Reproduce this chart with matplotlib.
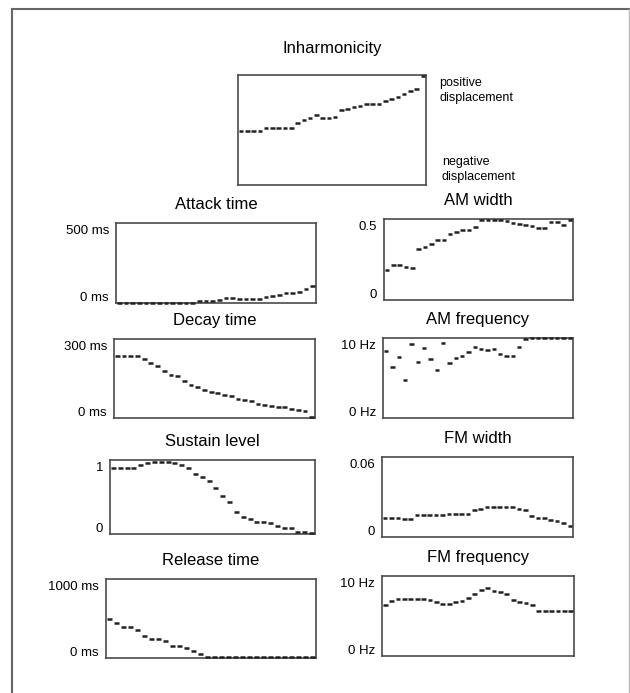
import numpy as np
import matplotlib
matplotlib.use("Agg")
import matplotlib.pyplot as plt
from matplotlib.lines import Line2D

plt.rcParams['font.family'] = ['Liberation Sans', 'DejaVu Sans']

# Parameter trajectories, 30 steps each
inharmonicity = [-0.02, -0.02, -0.02, -0.02, 0.03, 0.03, 0.03, 0.03, 0.03, 0.12,
                 0.18, 0.21, 0.27, 0.21, 0.21, 0.23, 0.36, 0.38, 0.41, 0.44,
                 0.47, 0.48, 0.48, 0.52, 0.56, 0.60, 0.65, 0.71, 0.75, 0.98]
attack_time = [3, 3, 3, 3, 3, 3, 3, 3, 3, 3, 3, 3, 12, 12, 12, 21, 29, 31, 27, 27,
               27, 27, 35, 46, 52, 62, 62, 71, 87, 104]
decay_time = [234, 234, 234, 234, 224, 209, 196, 180, 165, 158, 142, 124, 116, 108, 97,
              95, 89, 82, 73, 67, 63, 53, 51, 44, 43, 41, 35, 30, 25, 4]
sustain_level = [0.887, 0.887, 0.887, 0.887, 0.932, 0.955, 0.968, 0.968, 0.968, 0.955,
                 0.932, 0.887, 0.81, 0.775, 0.72, 0.626, 0.514, 0.437, 0.302, 0.234,
                 0.198, 0.167, 0.158, 0.144, 0.108, 0.077, 0.077, 0.032, 0.032, 0.018]
release_time = [494, 443, 392, 392, 359, 274, 245, 245, 211, 148, 148, 127, 84, 51, 13,
                13, 13, 13, 13, 13, 13, 13, 13, 13, 13, 13, 13, 13, 13, 13]
am_width = [0.186, 0.213, 0.213, 0.202, 0.196, 0.314, 0.326, 0.347, 0.368, 0.372,
            0.409, 0.417, 0.43, 0.43, 0.45, 0.492, 0.492, 0.492, 0.492, 0.486,
            0.475, 0.471, 0.465, 0.455, 0.444, 0.444, 0.479, 0.479, 0.463, 0.492]
am_frequency = [8.39, 6.40, 7.60, 4.79, 9.21, 6.94, 8.80, 7.40, 6.03, 9.42,
                6.82, 7.56, 7.81, 8.22, 8.84, 8.68, 8.55, 8.68, 8.06, 7.77,
                7.77, 8.84, 9.92, 9.95, 9.95, 9.95, 9.95, 9.95, 9.95, 9.95]
fm_width = [0.0146, 0.0146, 0.0144, 0.0136, 0.0136, 0.0164, 0.0164, 0.0164, 0.0164, 0.0164,
            0.0176, 0.0176, 0.0176, 0.0176, 0.0202, 0.0207, 0.0227, 0.0227, 0.0227, 0.0227,
            0.0227, 0.0207, 0.0202, 0.0159, 0.0146, 0.0139, 0.0126, 0.0118, 0.0106, 0.0081]
fm_frequency = [6.38, 6.92, 7.13, 7.13, 7.13, 7.13, 7.13, 7.0, 6.71, 6.46,
                6.46, 6.71, 6.88, 7.21, 7.75, 8.25, 8.46, 8.17, 8.04, 7.75,
                7.0, 6.71, 6.58, 6.38, 5.67, 5.67, 5.67, 5.67, 5.67, 5.67]

FRAME = '#4a4a4a'
MARK = '#222222'
W, H = 630, 693


# Function to create an axes from pixel box (left, top, right, bottom)
def add_panel(fig, box):
    x0, y0, x1, y1 = box
    ax = fig.add_axes([x0 / W, 1 - y1 / H, (x1 - x0) / W, (y1 - y0) / H])
    for s in ax.spines.values():
        s.set_color(FRAME)
        s.set_linewidth(1.2)
    ax.set_xticks([])
    ax.set_yticks([])
    return ax


# Function to draw a step trajectory as short dashes
def draw_steps(ax, values, ylim):
    n = len(values)
    x = np.arange(n) + 0.5
    ax.hlines(values, x - 0.36, x + 0.36, colors=MARK, linewidth=1.8,
              zorder=3, clip_on=False)
    ax.set_xlim(0, n)
    ax.set_ylim(*ylim)


# Function to draw one labelled panel
def plot_panel(fig, box, title, values, top, labels):
    ax = add_panel(fig, box)
    draw_steps(ax, values, (0, top))
    ax.set_title(title, fontsize=12, pad=10)
    # axis end labels sit a little inside the box, as in the original
    ax.annotate(labels[0], (0, 0), xycoords='axes fraction', xytext=(-7, 5),
                textcoords='offset pixels', ha='right', va='center', fontsize=9.5)
    ax.annotate(labels[1], (0, 1), xycoords='axes fraction', xytext=(-7, -8),
                textcoords='offset pixels', ha='right', va='center', fontsize=9.5)
    return ax


fig = plt.figure(figsize=(W / 100, H / 100), dpi=100)

# outer frame (left, top, right)
fig.add_artist(Line2D([12 / W, 12 / W], [0, 1 - 9 / H], color='#666666', linewidth=1.5))
fig.add_artist(Line2D([12 / W, 629 / W], [1 - 9 / H, 1 - 9 / H], color='#666666', linewidth=1.5))
fig.add_artist(Line2D([629 / W, 629 / W], [0, 1 - 9 / H], color='#bbbbbb', linewidth=1.0))

# Inharmonicity panel on top
ax = add_panel(fig, (238, 75, 426, 185))
draw_steps(ax, inharmonicity, (-1, 1))
ax.set_title('Inharmonicity', fontsize=12, pad=16)
ax.text(1.07, 0.98, 'positive\ndisplacement', transform=ax.transAxes,
        fontsize=9, va='top', ha='left', linespacing=1.3)
ax.text(1.085, 0.02, 'negative\ndisplacement', transform=ax.transAxes,
        fontsize=9, va='bottom', ha='left', linespacing=1.3)

# Left column: envelope parameters
plot_panel(fig, (116, 223, 316, 303), 'Attack time', attack_time, 500, ['0 ms', '500 ms'])
plot_panel(fig, (114, 339, 315, 418), 'Decay time', decay_time, 300, ['0 ms', '300 ms'])
plot_panel(fig, (110, 460, 315, 534), 'Sustain level', sustain_level, 1, ['0', '1'])
plot_panel(fig, (106, 579, 316, 658), 'Release time', release_time, 1000, ['0 ms', '1000 ms'])

# Right column: modulation parameters
plot_panel(fig, (384, 219, 573, 300), 'AM width', am_width, 0.5, ['0', '0.5'])
plot_panel(fig, (383, 338, 573, 418), 'AM frequency', am_frequency, 10, ['0 Hz', '10 Hz'])
plot_panel(fig, (382, 457, 573, 537), 'FM width', fm_width, 0.06, ['0', '0.06'])
plot_panel(fig, (382, 576, 574, 656), 'FM frequency', fm_frequency, 10, ['0 Hz', '10 Hz'])

fig.savefig('out.png', dpi=100)
